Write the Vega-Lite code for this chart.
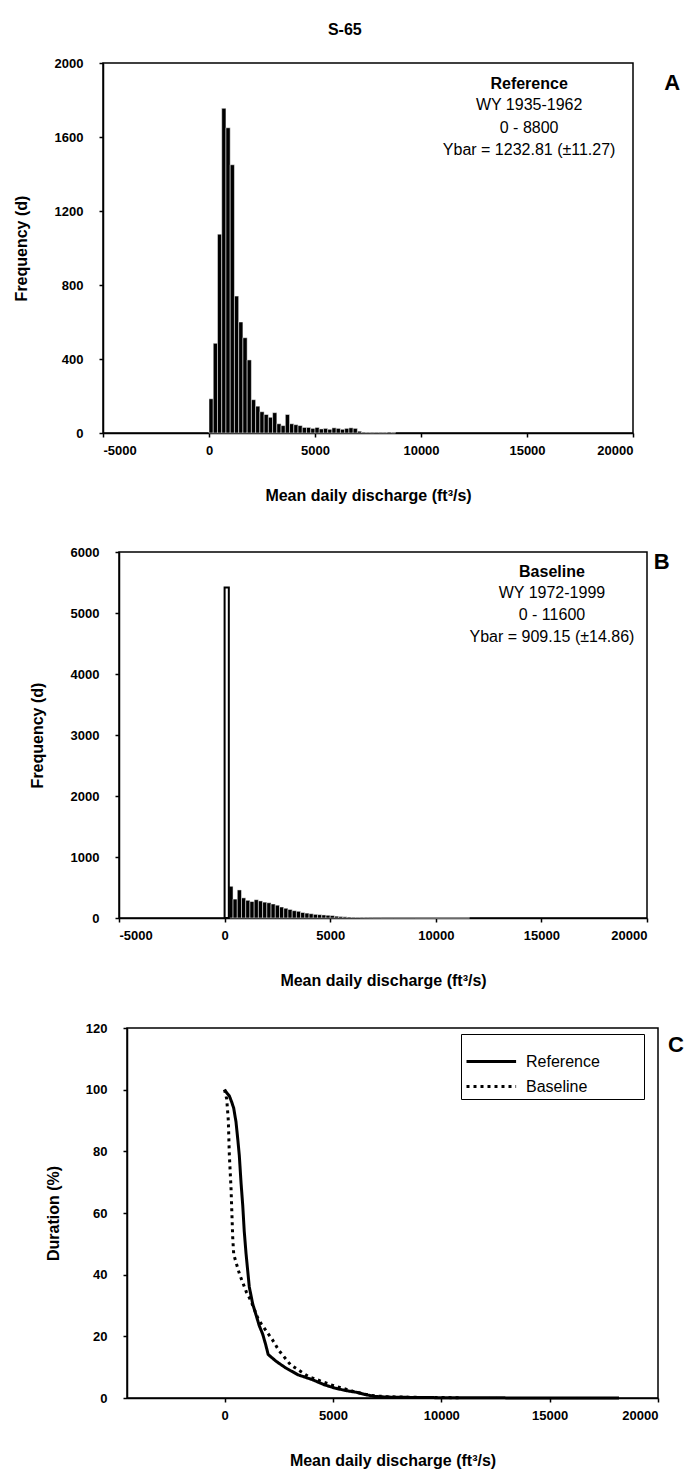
{
  "$schema": "https://vega.github.io/schema/vega-lite/v6.json",
  "background": "white",
  "padding": {"left": 5, "top": 22, "right": 5, "bottom": 5},
  "title": {"text": "S-65", "fontSize": 16, "fontWeight": "bold", "font": "Liberation Sans", "color": "black", "anchor": "middle", "offset": 18},
  "datasets": {
    "histA": [
      {"x0": 0, "x1": 200, "n": 185}, {"x0": 200, "x1": 400, "n": 485}, {"x0": 400, "x1": 600, "n": 1075},
      {"x0": 600, "x1": 800, "n": 1755}, {"x0": 800, "x1": 1000, "n": 1650}, {"x0": 1000, "x1": 1200, "n": 1450},
      {"x0": 1200, "x1": 1400, "n": 740}, {"x0": 1400, "x1": 1600, "n": 600}, {"x0": 1600, "x1": 1800, "n": 515},
      {"x0": 1800, "x1": 2000, "n": 395}, {"x0": 2000, "x1": 2200, "n": 180}, {"x0": 2200, "x1": 2400, "n": 145},
      {"x0": 2400, "x1": 2600, "n": 115}, {"x0": 2600, "x1": 2800, "n": 100}, {"x0": 2800, "x1": 3000, "n": 85},
      {"x0": 3000, "x1": 3200, "n": 110}, {"x0": 3200, "x1": 3400, "n": 50}, {"x0": 3400, "x1": 3600, "n": 40},
      {"x0": 3600, "x1": 3800, "n": 100}, {"x0": 3800, "x1": 4000, "n": 50}, {"x0": 4000, "x1": 4200, "n": 45},
      {"x0": 4200, "x1": 4400, "n": 40}, {"x0": 4400, "x1": 4600, "n": 30}, {"x0": 4600, "x1": 4800, "n": 30},
      {"x0": 4800, "x1": 5000, "n": 25}, {"x0": 5000, "x1": 5200, "n": 30}, {"x0": 5200, "x1": 5400, "n": 22},
      {"x0": 5400, "x1": 5600, "n": 25}, {"x0": 5600, "x1": 5800, "n": 20}, {"x0": 5800, "x1": 6000, "n": 28},
      {"x0": 6000, "x1": 6200, "n": 25}, {"x0": 6200, "x1": 6400, "n": 20}, {"x0": 6400, "x1": 6600, "n": 25},
      {"x0": 6600, "x1": 6800, "n": 28}, {"x0": 6800, "x1": 7000, "n": 25}, {"x0": 7000, "x1": 7200, "n": 10},
      {"x0": 7200, "x1": 7400, "n": 4}, {"x0": 7400, "x1": 7600, "n": 3}, {"x0": 7600, "x1": 7800, "n": 2},
      {"x0": 7800, "x1": 8000, "n": 3}, {"x0": 8000, "x1": 8200, "n": 2}, {"x0": 8200, "x1": 8400, "n": 2},
      {"x0": 8400, "x1": 8600, "n": 5}, {"x0": 8600, "x1": 8800, "n": 2}
    ],
    "histB": [
      {"x0": 0, "x1": 200, "n": 5420}, {"x0": 200, "x1": 400, "n": 520}, {"x0": 400, "x1": 600, "n": 310},
      {"x0": 600, "x1": 800, "n": 460}, {"x0": 800, "x1": 1000, "n": 330}, {"x0": 1000, "x1": 1200, "n": 290},
      {"x0": 1200, "x1": 1400, "n": 270}, {"x0": 1400, "x1": 1600, "n": 300}, {"x0": 1600, "x1": 1800, "n": 280},
      {"x0": 1800, "x1": 2000, "n": 260}, {"x0": 2000, "x1": 2200, "n": 250}, {"x0": 2200, "x1": 2400, "n": 230},
      {"x0": 2400, "x1": 2600, "n": 210}, {"x0": 2600, "x1": 2800, "n": 180}, {"x0": 2800, "x1": 3000, "n": 160},
      {"x0": 3000, "x1": 3200, "n": 140}, {"x0": 3200, "x1": 3400, "n": 120}, {"x0": 3400, "x1": 3600, "n": 110},
      {"x0": 3600, "x1": 3800, "n": 90}, {"x0": 3800, "x1": 4000, "n": 80}, {"x0": 4000, "x1": 4200, "n": 70},
      {"x0": 4200, "x1": 4400, "n": 60}, {"x0": 4400, "x1": 4600, "n": 55}, {"x0": 4600, "x1": 4800, "n": 50},
      {"x0": 4800, "x1": 5000, "n": 45}, {"x0": 5000, "x1": 5200, "n": 40}, {"x0": 5200, "x1": 5400, "n": 30},
      {"x0": 5400, "x1": 5600, "n": 25}, {"x0": 5600, "x1": 5800, "n": 20}, {"x0": 5800, "x1": 6000, "n": 15},
      {"x0": 6000, "x1": 6200, "n": 10}, {"x0": 6200, "x1": 6400, "n": 8}, {"x0": 6400, "x1": 6600, "n": 6},
      {"x0": 6600, "x1": 6800, "n": 5}, {"x0": 6800, "x1": 7000, "n": 4}, {"x0": 7000, "x1": 7400, "n": 3},
      {"x0": 7400, "x1": 8000, "n": 2}, {"x0": 8000, "x1": 9000, "n": 2}, {"x0": 9000, "x1": 11600, "n": 1}
    ],
    "dur": [
      {"series": "Reference", "q": 0, "p": 100}, {"series": "Reference", "q": 100, "p": 99}, {"series": "Reference", "q": 220, "p": 98},
      {"series": "Reference", "q": 330, "p": 96}, {"series": "Reference", "q": 424, "p": 94}, {"series": "Reference", "q": 530, "p": 89.5},
      {"series": "Reference", "q": 610, "p": 84}, {"series": "Reference", "q": 682, "p": 78.6}, {"series": "Reference", "q": 760, "p": 70},
      {"series": "Reference", "q": 840, "p": 62.5}, {"series": "Reference", "q": 910, "p": 54}, {"series": "Reference", "q": 990, "p": 47},
      {"series": "Reference", "q": 1143, "p": 36}, {"series": "Reference", "q": 1300, "p": 30.5}, {"series": "Reference", "q": 1452, "p": 27},
      {"series": "Reference", "q": 1600, "p": 23.5}, {"series": "Reference", "q": 1761, "p": 20.7}, {"series": "Reference", "q": 1900, "p": 17.3},
      {"series": "Reference", "q": 2014, "p": 14.1}, {"series": "Reference", "q": 2400, "p": 11.8}, {"series": "Reference", "q": 2836, "p": 9.7},
      {"series": "Reference", "q": 3400, "p": 7.5}, {"series": "Reference", "q": 4069, "p": 5.9}, {"series": "Reference", "q": 4600, "p": 4.3},
      {"series": "Reference", "q": 5097, "p": 3.2}, {"series": "Reference", "q": 5600, "p": 2.4}, {"series": "Reference", "q": 6124, "p": 1.8},
      {"series": "Reference", "q": 6500, "p": 1.1}, {"series": "Reference", "q": 6946, "p": 0.5}, {"series": "Reference", "q": 7500, "p": 0.3},
      {"series": "Reference", "q": 8500, "p": 0.2}, {"series": "Reference", "q": 10000, "p": 0.1}, {"series": "Reference", "q": 12000, "p": 0.05},
      {"series": "Reference", "q": 15000, "p": 0.02}, {"series": "Reference", "q": 18200, "p": 0},
      {"series": "Baseline", "q": 0, "p": 100}, {"series": "Baseline", "q": 100, "p": 97}, {"series": "Baseline", "q": 175, "p": 90},
      {"series": "Baseline", "q": 221, "p": 79}, {"series": "Baseline", "q": 300, "p": 68}, {"series": "Baseline", "q": 378, "p": 52},
      {"series": "Baseline", "q": 424, "p": 46.6}, {"series": "Baseline", "q": 530, "p": 44}, {"series": "Baseline", "q": 700, "p": 40},
      {"series": "Baseline", "q": 838, "p": 37.5}, {"series": "Baseline", "q": 1000, "p": 34.5}, {"series": "Baseline", "q": 1220, "p": 31.5},
      {"series": "Baseline", "q": 1530, "p": 26}, {"series": "Baseline", "q": 1700, "p": 24}, {"series": "Baseline", "q": 2000, "p": 21},
      {"series": "Baseline", "q": 2200, "p": 19}, {"series": "Baseline", "q": 2500, "p": 15.5}, {"series": "Baseline", "q": 3042, "p": 10.8},
      {"series": "Baseline", "q": 3864, "p": 7}, {"series": "Baseline", "q": 4891, "p": 4.3}, {"series": "Baseline", "q": 5919, "p": 2.2},
      {"series": "Baseline", "q": 6741, "p": 0.8}, {"series": "Baseline", "q": 7500, "p": 0.4}, {"series": "Baseline", "q": 9000, "p": 0.2},
      {"series": "Baseline", "q": 10850, "p": 0.1}
    ]
  },
  "config": {
    "font": "Liberation Sans",
    "view": {"stroke": "black", "strokeWidth": 1.5},
    "axis": {
      "grid": false, "domainColor": "black", "domainWidth": 1.5, "tickColor": "black", "tickWidth": 1.5, "tickSize": 4,
      "labelFont": "Liberation Sans", "labelFontSize": 13, "labelFontWeight": "bold", "labelColor": "black", "labelOverlap": false,
      "labelExpr": "datum.value + ''",
      "titleFont": "Liberation Sans", "titleFontSize": 16, "titleFontWeight": "bold", "titleColor": "black"
    },
    "axisX": {"labelPadding": 7, "titlePadding": 30},
    "axisY": {"labelPadding": 16},
    "text": {"font": "Liberation Sans", "color": "black"}
  },
  "concat": [
    {
      "hconcat": [
        {"width": 7, "height": 20, "view": {"stroke": null, "fill": "white"}, "data": {"values": []}, "mark": "point", "encoding": {}},
        {
          "width": 530, "height": 370,
          "layer": [
            {
              "data": {"name": "histA"},
              "mark": {"type": "rect", "color": "black", "stroke": "white", "strokeWidth": 0.5},
              "encoding": {
                "x": {"field": "x0", "type": "quantitative", "scale": {"domain": [-5000, 20000], "nice": false, "zero": false},
                      "axis": {"values": [-5000, 0, 5000, 10000, 15000, 20000], "title": "Mean daily discharge (ft³/s)"}},
                "x2": {"field": "x1"},
                "y": {"field": "n", "type": "quantitative", "scale": {"domain": [0, 2000], "nice": false},
                      "axis": {"values": [0, 200, 400, 600, 800, 1000, 1200, 1400, 1600, 1800, 2000], "title": "Frequency (d)", "titlePadding": 25}},
                "y2": {"datum": 0}
              }
            },
            {
              "data": {"values": [{}]},
              "mark": {"type": "text", "fontSize": 16, "fontWeight": "bold", "baseline": "top", "align": "center"},
              "encoding": {"x": {"datum": 15100}, "y": {"datum": 1930}, "text": {"value": "Reference"}}
            },
            {
              "data": {"values": [{}]},
              "mark": {"type": "text", "fontSize": 16, "baseline": "top", "align": "center", "lineHeight": 22.5},
              "encoding": {"x": {"datum": 15100}, "y": {"datum": 1816}, "text": {"value": ["WY 1935-1962", "0 - 8800", "Ybar = 1232.81 (±11.27)"]}}
            },
            {
              "data": {"values": [{}]},
              "mark": {"type": "text", "fontSize": 22, "fontWeight": "bold", "baseline": "middle", "align": "center"},
              "encoding": {"x": {"datum": 21850}, "y": {"datum": 1892}, "text": {"value": "A"}}
            }
          ]
        }
      ],
      "spacing": 0
    },
    {
      "concat": [
        {
          "hconcat": [
            {"width": 23, "height": 20, "view": {"stroke": null, "fill": "white"}, "data": {"values": []}, "mark": "point", "encoding": {}},
            {
              "width": 528, "height": 366,
              "layer": [
                {
                  "data": {"name": "histB"},
                  "transform": [{"filter": "datum.n < 5000"}],
                  "mark": {"type": "rect", "color": "black", "stroke": "white", "strokeWidth": 0.5},
                  "encoding": {
                    "x": {"field": "x0", "type": "quantitative", "scale": {"domain": [-5000, 20000], "nice": false, "zero": false},
                          "axis": {"values": [-5000, 0, 5000, 10000, 15000, 20000], "title": "Mean daily discharge (ft³/s)"}},
                    "x2": {"field": "x1"},
                    "y": {"field": "n", "type": "quantitative", "scale": {"domain": [0, 6000], "nice": false},
                          "axis": {"values": [0, 1000, 2000, 3000, 4000, 5000, 6000], "title": "Frequency (d)", "titlePadding": 25}},
                    "y2": {"datum": 0}
                  }
                },
                {
                  "data": {"name": "histB"},
                  "transform": [{"filter": "datum.n >= 5000"}],
                  "mark": {"type": "rect", "fill": "white", "stroke": "black", "strokeWidth": 2},
                  "encoding": {
                    "x": {"field": "x0", "type": "quantitative"},
                    "x2": {"field": "x1"},
                    "y": {"field": "n", "type": "quantitative"},
                    "y2": {"datum": 0}
                  }
                },
                {
                  "data": {"values": [{}]},
                  "mark": {"type": "text", "fontSize": 16, "fontWeight": "bold", "baseline": "top", "align": "center"},
                  "encoding": {"x": {"datum": 15500}, "y": {"datum": 5803}, "text": {"value": "Baseline"}}
                },
                {
                  "data": {"values": [{}]},
                  "mark": {"type": "text", "fontSize": 16, "baseline": "top", "align": "center", "lineHeight": 22},
                  "encoding": {"x": {"datum": 15500}, "y": {"datum": 5459}, "text": {"value": ["WY 1972-1999", "0 - 11600", "Ybar = 909.15 (±14.86)"]}}
                },
                {
                  "data": {"values": [{}]},
                  "mark": {"type": "text", "fontSize": 22, "fontWeight": "bold", "baseline": "middle", "align": "center"},
                  "encoding": {"x": {"datum": 20700}, "y": {"datum": 5840}, "text": {"value": "B"}}
                }
              ]
            }
          ],
          "spacing": 0
        },
        {
          "hconcat": [
            {"width": 39, "height": 20, "view": {"stroke": null, "fill": "white"}, "data": {"values": []}, "mark": "point", "encoding": {}},
            {
              "width": 531, "height": 370,
              "layer": [
                {
                  "data": {"name": "dur"},
                  "mark": {"type": "line", "color": "black", "strokeWidth": 3},
                  "encoding": {
                    "x": {"field": "q", "type": "quantitative", "scale": {"domain": [-4500, 20000], "nice": false, "zero": false},
                          "axis": {"values": [0, 5000, 10000, 15000, 20000], "title": "Mean daily discharge (ft³/s)"}},
                    "y": {"field": "p", "type": "quantitative", "scale": {"domain": [0, 120], "nice": false},
                          "axis": {"values": [0, 20, 40, 60, 80, 100, 120], "title": "Duration (%)", "titlePadding": 24}},
                    "strokeDash": {"field": "series", "type": "nominal",
                                   "scale": {"domain": ["Reference", "Baseline"], "range": [[1, 0], [3, 4]]},
                                   "legend": {"title": " ", "titleFontSize": 10, "titlePadding": 4, "orient": "none", "legendX": 334, "legendY": 6,
                                              "symbolType": "M-1,0H5.2", "symbolSize": 256, "symbolStrokeWidth": 3, "symbolStrokeColor": "black",
                                              "labelFont": "Liberation Sans", "labelFontSize": 16, "labelColor": "black", "labelOffset": 42,
                                              "labelExpr": "datum.label + '\u00a0\u00a0\u00a0\u00a0\u00a0\u00a0\u00a0\u00a0\u00a0\u200b'",
                                              "strokeColor": "black", "fillColor": "white", "padding": 4, "rowPadding": 7}}
                  }
                },
                {
                  "data": {"values": [{}]},
                  "mark": {"type": "text", "fontSize": 22, "fontWeight": "bold", "baseline": "middle", "align": "center"},
                  "encoding": {"x": {"datum": 20830}, "y": {"datum": 114.5}, "text": {"value": "C"}}
                }
              ]
            }
          ],
          "spacing": 0,
          "resolve": {"scale": {"strokeDash": "independent"}, "legend": {"strokeDash": "independent"}}
        }
      ],
      "columns": 1,
      "spacing": 32,
      "resolve": {"scale": {"strokeDash": "independent"}, "legend": {"strokeDash": "independent"}}
    }
  ],
  "columns": 1,
  "spacing": 41,
  "resolve": {"scale": {"strokeDash": "independent"}, "legend": {"strokeDash": "independent"}}
}
